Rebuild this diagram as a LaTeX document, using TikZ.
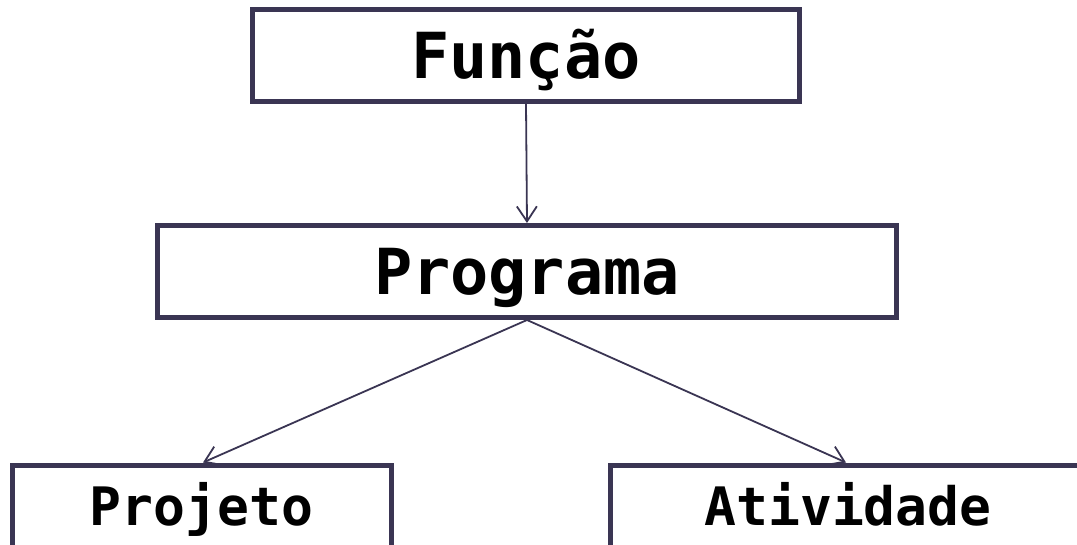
\documentclass[tikz,border=0pt]{standalone}
\usepackage{fontspec}
\setmonofont{DejaVu Sans Mono}
\usetikzlibrary{arrows.meta}
\definecolor{edge}{HTML}{3A3553}
\begin{document}
\begin{tikzpicture}[x=1pt,y=-1pt,
  box/.style={draw=edge, line width=5pt, fill=white, rectangle, inner sep=0pt,
    minimum height=92pt, text height=50pt, text depth=4pt,
    font=\ttfamily\bfseries\fontsize{63.5}{63.5}\selectfont},
  lowbox/.style={box, text height=40pt, text depth=12pt,
    font=\ttfamily\bfseries\fontsize{53}{53}\selectfont},
  link/.style={draw=edge, line width=1.8pt, -{Straight Barb[length=15pt,width=20pt]}}]
\useasboundingbox (0,0) rectangle (1077,544);
\node[box, minimum width=547pt] (funcao) at (526,55) {Função};
\node[box, minimum width=739pt] (programa) at (527,271.5) {Programa};
\node[lowbox, minimum width=379pt] (projeto) at (201.5,511) {Projeto};
\node[lowbox, minimum width=475pt] (atividade) at (848,511) {Atividade};
\draw[link] (funcao.south) -- (programa.north);
\draw[link] (programa.south) -- (projeto.north -| 203,0);
\draw[link] (programa.south) -- (atividade.north -| 846,0);
\end{tikzpicture}
\end{document}
